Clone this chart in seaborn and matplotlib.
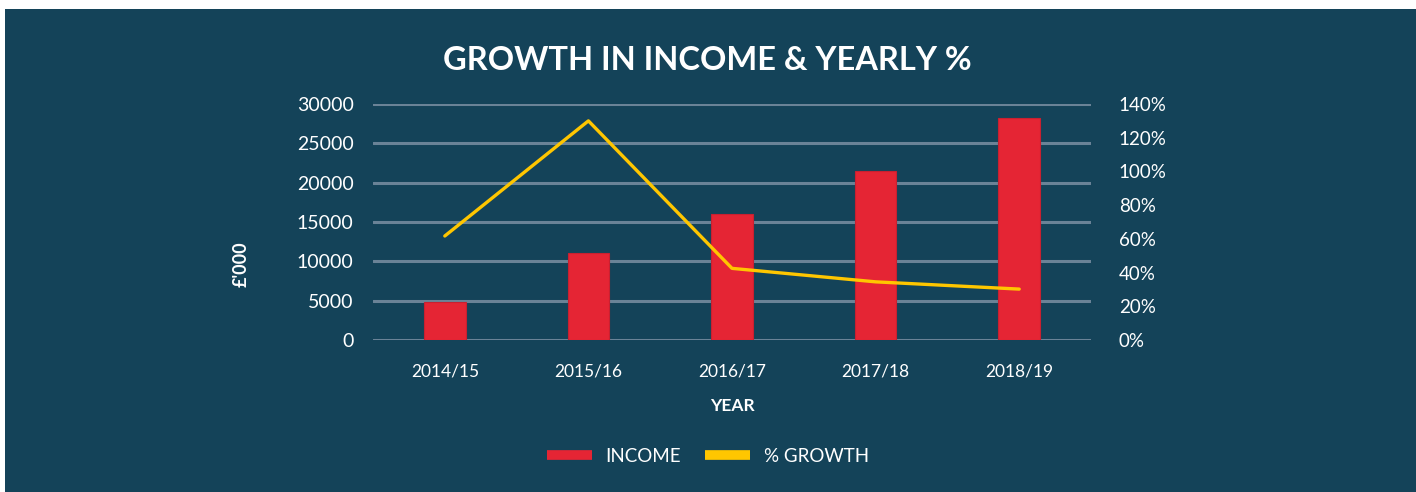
import matplotlib
matplotlib.use("Agg")
import matplotlib.pyplot as plt
from matplotlib.patches import Rectangle
from matplotlib.lines import Line2D
from matplotlib.ticker import FuncFormatter
import seaborn as sns
import pandas as pd

years = ["2014/15", "2015/16", "2016/17", "2017/18", "2018/19"]
income = [4800, 11000, 16000, 21500, 28200]
growth_pct = [61.7, 130.0, 42.5, 34.5, 30.2]
left_ticks = [0, 5000, 10000, 15000, 20000, 25000, 30000]
right_ticks = [0, 20, 40, 60, 80, 100, 120, 140]

BG = "#144359"
RED = "#E52534"
YELLOW = "#FFC600"
GRID = "#6A8397"
WHITE = "#FFFFFF"

sns.set_theme(style="white")
plt.rcParams["font.family"] = ["Lato", "DejaVu Sans"]

df = pd.DataFrame({"year": years, "income": income, "growth": growth_pct})

fig = plt.figure(figsize=(14.16, 4.92), dpi=100, facecolor="white")
fig.patches.append(Rectangle((5 / 1416, 0), 1 - 5 / 1416, 1 - 9 / 492,
                             transform=fig.transFigure, facecolor=BG,
                             edgecolor="none", zorder=-10))

ax = fig.add_axes([373 / 1416, 1 - 340 / 492, 718 / 1416, 236 / 492])
ax.set_facecolor("none")

sns.barplot(data=df, x="year", y="income", color=RED, width=0.29,
            saturation=1, edgecolor="#C92030", linewidth=0.8, ax=ax, zorder=3)
ax.set_xlim(-0.5, 4.5)
ax.set_ylim(0, 30000)
ax.set_yticks(left_ticks)
ax.yaxis.grid(True, color=GRID, linewidth=2.2, zorder=0)
ax.set_axisbelow(True)
for s in ax.spines.values():
    s.set_visible(False)
ax.tick_params(axis="both", length=0, colors=WHITE)
ax.tick_params(axis="y", pad=14, labelsize=14)
ax.tick_params(axis="x", pad=17, labelsize=12.5)
ax.set_xlabel("YEAR", color=WHITE, fontsize=12.5, fontweight="bold", labelpad=13)
ax.set_ylabel("£'000", color=WHITE, fontsize=13, fontweight="bold",
              rotation=90, labelpad=0)
ax.yaxis.set_label_coords((250 - 373) / 718, 0.32)

ax2 = ax.twinx()
ax2.set_facecolor("none")
sns.lineplot(data=df, x="year", y="growth", color=YELLOW, linewidth=2.4,
             sort=False, ax=ax2, zorder=4)
ax2.set_ylim(0, 140)
ax2.set_yticks(right_ticks)
ax2.yaxis.set_major_formatter(FuncFormatter(lambda v, _: f"{v:.0f}%"))
ax2.grid(False)
for s in ax2.spines.values():
    s.set_visible(False)
ax2.tick_params(axis="y", length=0, colors=WHITE, labelsize=13.5, pad=20)
ax2.set_ylabel("")
ax2.set_xlabel("")

fig.text(707 / 1416, 1 - 61 / 492, "GROWTH IN INCOME & YEARLY %", color=WHITE,
         fontsize=23.5, fontweight="bold", ha="center", va="center")

handles = [Line2D([], [], color=RED, linewidth=7, solid_capstyle="butt"),
           Line2D([], [], color=YELLOW, linewidth=7, solid_capstyle="butt")]
leg = fig.legend(handles, ["INCOME", "% GROWTH"], loc="center",
                 bbox_to_anchor=(708 / 1416, 1 - 456 / 492), ncol=2,
                 frameon=False, fontsize=13.5, handlelength=2.4,
                 handletextpad=0.7, columnspacing=1.3)
for t in leg.get_texts():
    t.set_color(WHITE)

fig.savefig("out.png", dpi=100, facecolor=fig.get_facecolor())
